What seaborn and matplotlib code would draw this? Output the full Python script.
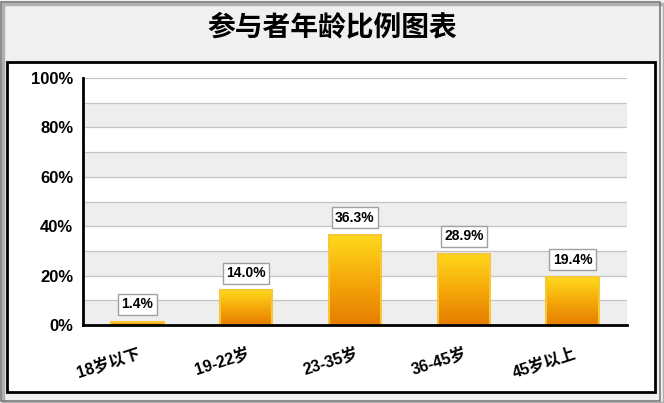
import numpy as np
import pandas as pd
import matplotlib
matplotlib.use("Agg")
import matplotlib.pyplot as plt
from matplotlib.patches import Rectangle
from matplotlib.colors import LinearSegmentedColormap
import seaborn as sns

# data
age_groups = ["18岁以下", "19-22岁", "23-35岁", "36-45岁", "45岁以上"]
share_pct = [1.4, 14.0, 36.3, 28.9, 19.4]
y_ticks = [0, 20, 40, 60, 80, 100]
y_tick_labels = ["0%", "20%", "40%", "60%", "80%", "100%"]
title = "参与者年龄比例图表"

df = pd.DataFrame({"group": age_groups, "share": share_pct})

sns.set_style("white")
plt.rcParams["font.family"] = ["Liberation Sans", "Noto Sans CJK SC", "DejaVu Sans"]
plt.rcParams["text.color"] = "black"
plt.rcParams["xtick.color"] = "black"
plt.rcParams["ytick.color"] = "black"

fig = plt.figure(figsize=(6.64, 4.03), dpi=100)
fig.patch.set_facecolor("#f0f0f0")

# outer border with a soft shadow, inner white panel (behind the axes)
fig.patches.append(Rectangle((0.004, 0.0), 0.996, 0.99, transform=fig.transFigure,
                             fill=False, ec="#b0b0b0", lw=2.5, zorder=-3))
fig.patches.append(Rectangle((0.002, 0.006), 0.992, 0.99, transform=fig.transFigure,
                             fill=False, ec="#7a7a7a", lw=1.2, zorder=-2))
fig.patches.append(Rectangle((7 / 664, 1 - 392 / 403), 648 / 664, 330 / 403,
                             transform=fig.transFigure, fc="white", ec="black", lw=2,
                             zorder=-1))

fig.text(332 / 664, 1 - 27 / 403, title, ha="center", va="center",
         fontsize=20, fontweight="bold", color="black", family=["Noto Sans CJK SC"])

ax = fig.add_axes([83 / 664, 1 - 325 / 403, 544 / 664, 247 / 403])
ax.set_facecolor("none")

# alternating grey bands and grid lines
for lo in range(0, 100, 20):
    ax.axhspan(lo, lo + 10, color="#eeeeee", zorder=0, lw=0)
for g in range(10, 101, 10):
    ax.axhline(g, color="#c4c4c4", lw=0.9, zorder=0.5)

sns.barplot(data=df, x="group", y="share", ax=ax, width=0.48,
            color="#f5a800", edgecolor="#f7c73a", linewidth=1.5, zorder=2)

cmap = LinearSegmentedColormap.from_list("gold", ["#e67d00", "#f5a90a", "#ffd91c"])
grad = np.linspace(0, 1, 256).reshape(-1, 1)
for p in ax.containers[0]:
    x0, y0 = p.get_x(), p.get_y()
    w, h = p.get_width(), p.get_height()
    im = ax.imshow(grad, extent=[x0, x0 + w, y0, y0 + h], origin="lower",
                   aspect="auto", cmap=cmap, zorder=2.1)
    im.set_clip_path(p)
    p.set_facecolor("none")
    p.set_zorder(2.2)

for i, v in enumerate(share_pct):
    ax.text(i, v + 4.2, f"{v:.1f}%", ha="center", va="bottom", fontsize=10,
            fontweight="bold", zorder=4,
            bbox=dict(boxstyle="square,pad=0.25", fc="white", ec="#a0a0a0", lw=1))

ax.set_xlim(-0.5, len(age_groups) - 0.5)
ax.set_ylim(0, 100)
ax.set_yticks(y_ticks)
ax.set_yticklabels(y_tick_labels, fontsize=12, fontweight="bold")
ax.set_xticks(range(len(age_groups)))
ax.set_xticklabels(age_groups, fontsize=11.5, fontweight="bold", rotation=18,
                   ha="right", rotation_mode="anchor")
ax.tick_params(axis="x", which="major", length=0, pad=14)
ax.set_xticks(np.arange(-0.5, len(age_groups), 1), minor=True)
ax.tick_params(axis="x", which="minor", length=6, width=1.5, color="black", direction="out")
ax.tick_params(axis="y", length=5, width=1.5, color="black", direction="out", pad=2)
ax.set_xlabel("")
ax.set_ylabel("")

for s in ["top", "right"]:
    ax.spines[s].set_visible(False)
for s in ["left", "bottom"]:
    ax.spines[s].set_color("black")
    ax.spines[s].set_linewidth(2)
    ax.spines[s].set_zorder(5)

fig.savefig("out.png", dpi=100, facecolor=fig.get_facecolor())
